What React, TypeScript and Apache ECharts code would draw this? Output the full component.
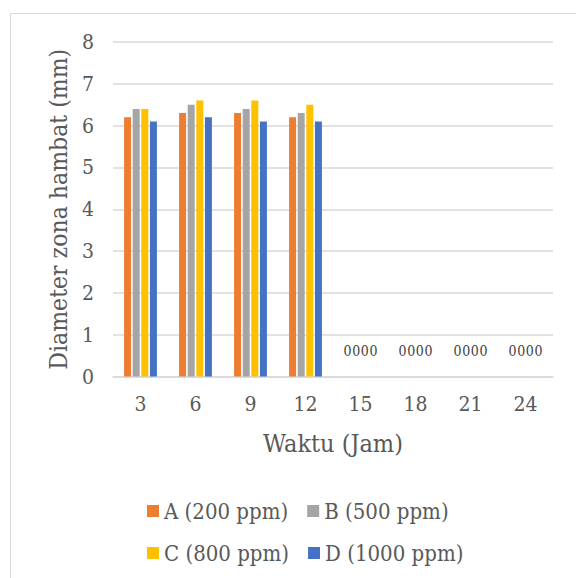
import React, { useEffect, useRef } from "react";
import * as echarts from "echarts";

const categories = ["3", "6", "9", "12", "15", "18", "21", "24"];
const seriesA = [6.2, 6.3, 6.3, 6.2, 0, 0, 0, 0];
const seriesB = [6.4, 6.5, 6.4, 6.3, 0, 0, 0, 0];
const seriesC = [6.4, 6.6, 6.6, 6.5, 0, 0, 0, 0];
const seriesD = [6.1, 6.2, 6.1, 6.1, 0, 0, 0, 0];
const seriesNames = ["A (200 ppm)", "B (500 ppm)", "C (800 ppm)", "D (1000 ppm)"];
const colors = ["#ED7D31", "#A5A5A5", "#FFC000", "#4472C4"];
const yTicks = { min: 0, max: 8, interval: 1 };

const FONT = "DejaVu Serif Condensed, DejaVu Serif";
const TXT = "#595959";

export default function App() {
  const ref = useRef<HTMLDivElement>(null);
  useEffect(() => {
    if (!ref.current) return;
    const chart = echarts.init(ref.current, null, { renderer: "svg" });
    const all = [seriesA, seriesB, seriesC, seriesD];
    chart.setOption({
      animation: false,
      backgroundColor: "#ffffff",
      textStyle: { fontFamily: FONT },
      graphic: [
        {
          type: "rect",
          shape: { x: 10.5, y: 13.5, width: 700, height: 700 },
          style: { fill: "none", stroke: "#d9d9d9", lineWidth: 1 },
          silent: true,
        },
      ],
      grid: { left: 113, right: 23, top: 42, bottom: 201.5, containLabel: false },
      legend: [
        {
          data: [seriesNames[0], seriesNames[1]],
          left: 142,
          top: 495,
          itemWidth: 12,
          itemHeight: 12,
          itemGap: 19,
          icon: "rect",
          textStyle: { fontFamily: FONT, fontSize: 22, color: TXT },
        },
        {
          data: [seriesNames[2], seriesNames[3]],
          left: 142,
          top: 537,
          itemWidth: 12,
          itemHeight: 12,
          itemGap: 19,
          icon: "rect",
          textStyle: { fontFamily: FONT, fontSize: 22, color: TXT },
        },
      ],
      xAxis: {
        type: "category",
        data: categories,
        name: "Waktu (Jam)",
        nameLocation: "middle",
        nameGap: 54,
        nameTextStyle: { fontFamily: FONT, fontSize: 25, color: TXT },
        axisLine: { show: true, lineStyle: { color: "#d9d9d9", width: 1.5 } },
        axisTick: { show: false },
        axisLabel: { fontFamily: FONT, fontSize: 21, color: TXT, margin: 17 },
      },
      yAxis: {
        type: "value",
        min: yTicks.min,
        max: yTicks.max,
        interval: yTicks.interval,
        name: "Diameter zona hambat (mm)",
        nameLocation: "middle",
        nameGap: 40,
        nameTextStyle: { fontFamily: FONT, fontSize: 24.5, color: TXT },
        axisLine: { show: false },
        axisTick: { show: false },
        axisLabel: { fontFamily: FONT, fontSize: 21, color: TXT, margin: 19 },
        splitLine: { show: true, lineStyle: { color: "#d9d9d9", width: 1.5 } },
      },
      series: all.map((vals, i) => ({
        type: "bar",
        name: seriesNames[i],
        data: vals,
        barWidth: 7,
        barGap: "23%",
        itemStyle: { color: colors[i] },
        label: {
          show: true,
          position: "top",
          distance: 19,
          fontFamily: FONT,
          fontSize: 14,
          color: "#404040",
          formatter: (p: any) => (p.value === 0 ? "0" : ""),
        },
      })),
    });
    return () => chart.dispose();
  }, []);
  return (
    <div
      ref={ref}
      style={{ position: "fixed", left: 0, top: 0, width: 576, height: 578 }}
    />
  );
}
